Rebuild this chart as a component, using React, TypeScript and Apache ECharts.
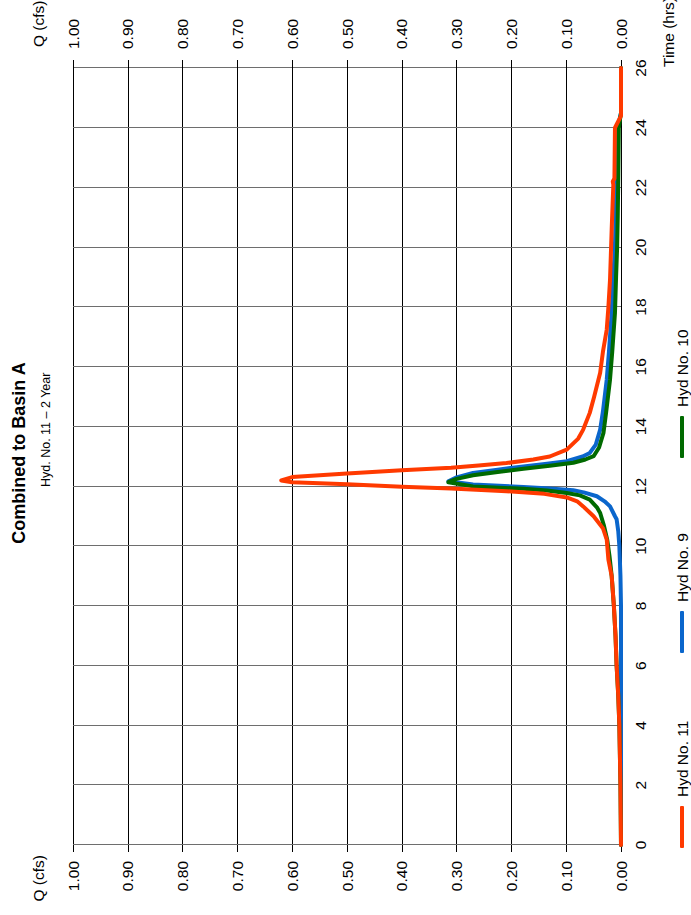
import React, { useEffect, useRef } from "react";
import * as echarts from "echarts";

// Time axis ticks (hrs) and discharge axis ticks (cfs)
const timeTicks = [0, 2, 4, 6, 8, 10, 12, 14, 16, 18, 20, 22, 24, 26];
const qTicks = [0, 0.1, 0.2, 0.3, 0.4, 0.5, 0.6, 0.7, 0.8, 0.9, 1.0];

const seriesNames = ["Hyd No. 11", "Hyd No. 9", "Hyd No. 10"];

// Hyd No. 11 – combined hydrograph
const hyd11Time = [0, 1, 2, 3, 4, 5, 6, 7, 8, 9, 9.55, 10.22, 10.6, 11.0, 11.33, 11.5, 11.63, 11.75, 11.84, 11.93, 11.99, 12.07, 12.14, 12.2, 12.31, 12.43, 12.54, 12.62, 12.7, 12.78, 12.9, 13.0, 13.23, 13.6, 13.9, 14.46, 15.0, 15.8, 16.5, 17.25, 18.0, 18.93, 20.6, 22.1, 22.2, 22.3, 24.0, 24.4, 26];
const hyd11Q = [0, 0.0005, 0.001, 0.002, 0.003, 0.005, 0.008, 0.01, 0.013, 0.017, 0.023, 0.026, 0.033, 0.05, 0.069, 0.08, 0.099, 0.14, 0.209, 0.31, 0.4, 0.5, 0.6, 0.62, 0.6, 0.5, 0.4, 0.31, 0.26, 0.209, 0.16, 0.13, 0.099, 0.078, 0.069, 0.057, 0.049, 0.038, 0.033, 0.026, 0.023, 0.02, 0.017, 0.014, 0.015, 0.012, 0.011, 0, 0];

// Hyd No. 9
const hyd9Time = [0, 8, 9, 9.5, 10, 10.5, 10.9, 11.0, 11.33, 11.5, 11.67, 11.8, 11.87, 11.93, 11.98, 12.06, 12.17, 12.3, 12.45, 12.56, 12.67, 12.76, 12.84, 13.0, 13.12, 13.4, 13.9, 14.5, 15.58, 16.5, 17.81, 19.0, 20.04, 21.0, 22.28, 24.0, 24.5, 26];
const hyd9Q = [0, 0, 0.001, 0.002, 0.003, 0.005, 0.008, 0.011, 0.02, 0.03, 0.044, 0.068, 0.087, 0.13, 0.178, 0.27, 0.315, 0.3, 0.27, 0.225, 0.178, 0.135, 0.099, 0.07, 0.057, 0.046, 0.038, 0.033, 0.026, 0.022, 0.017, 0.014, 0.011, 0.01, 0.008, 0.006, 0, 0];

// Hyd No. 10
const hyd10Time = [0, 1, 2, 3, 4, 5, 6, 7, 8, 9, 9.67, 10.2, 10.68, 11.11, 11.3, 11.56, 11.7, 11.78, 11.86, 11.92, 12.0, 12.14, 12.25, 12.37, 12.48, 12.59, 12.69, 12.79, 12.9, 13.01, 13.3, 13.79, 14.5, 15.58, 16.5, 17.81, 19.0, 20.04, 21.0, 22.28, 24.0, 24.5, 26];
const hyd10Q = [0, 0.0005, 0.001, 0.002, 0.003, 0.005, 0.008, 0.01, 0.013, 0.017, 0.021, 0.025, 0.031, 0.038, 0.044, 0.057, 0.075, 0.099, 0.135, 0.178, 0.27, 0.315, 0.3, 0.27, 0.225, 0.178, 0.13, 0.087, 0.065, 0.05, 0.04, 0.032, 0.027, 0.02, 0.016, 0.011, 0.009, 0.007, 0.006, 0.005, 0.004, 0, 0];

const FONT = "'Liberation Sans', Arial, Helvetica, sans-serif";
const LABEL_SIZE = 15.5;
// The chart is laid out landscape and turned a quarter turn on the page
const W = 915;
const H = 691;

const pairs = (t: number[], q: number[]) => t.map((v, i) => [v, q[i]]);

export default function App() {
  const ref = useRef<HTMLDivElement>(null);

  useEffect(() => {
    if (!ref.current) return;
    const chart = echarts.init(ref.current, undefined, { renderer: "svg" });

    const legendBase = {
      top: 674,
      padding: 0,
      icon: "roundRect",
      itemWidth: 42,
      itemHeight: 4,
      textStyle: { fontSize: LABEL_SIZE, color: "#000", fontFamily: FONT, padding: [0, 0, 0, 4] },
    };

    const qLabel = {
      fontSize: LABEL_SIZE,
      color: "#000",
      fontFamily: FONT,
      formatter: (v: number) => v.toFixed(2),
    };

    const plainText = (text: string, x: number, y: number, align: string, size: number, bold = false) => ({
      type: "text",
      x,
      y,
      style: {
        text,
        fontSize: size,
        fontWeight: bold ? "bold" : "normal",
        fontFamily: FONT,
        fill: "#000",
        textAlign: align,
        textVerticalAlign: "middle",
      },
    });

    const lineSeries = (name: string, t: number[], q: number[], color: string) => ({
      name,
      type: "line",
      data: pairs(t, q),
      symbol: "none",
      showSymbol: false,
      color,
      lineStyle: { width: 4, color, cap: "round", join: "round" },
    });

    chart.setOption({
      animation: false,
      backgroundColor: "#fff",
      textStyle: { fontFamily: FONT },
      grid: { left: 70, right: 68, top: 73, bottom: 70, containLabel: false },
      xAxis: {
        type: "value",
        min: timeTicks[0],
        max: timeTicks[timeTicks.length - 1],
        interval: timeTicks[1] - timeTicks[0],
        axisLine: { show: false },
        axisTick: { show: false },
        axisLabel: { fontSize: LABEL_SIZE, color: "#000", fontFamily: FONT, margin: 11 },
        splitLine: { show: true, lineStyle: { color: "#6e6e6e", width: 1 } },
      },
      yAxis: [
        {
          type: "value",
          position: "left",
          min: qTicks[0],
          max: qTicks[qTicks.length - 1],
          interval: qTicks[1] - qTicks[0],
          axisLine: { show: false },
          axisTick: { show: true, length: 7, lineStyle: { color: "#000" } },
          axisLabel: { ...qLabel, margin: 16 },
          splitLine: { show: true, lineStyle: { color: "#000", width: 1 } },
        },
        {
          type: "value",
          position: "right",
          min: qTicks[0],
          max: qTicks[qTicks.length - 1],
          interval: qTicks[1] - qTicks[0],
          axisLine: { show: false },
          axisTick: { show: true, length: 8, lineStyle: { color: "#000" } },
          axisLabel: { ...qLabel, margin: 19 },
          splitLine: { show: false },
        },
      ],
      legend: [
        { ...legendBase, left: 67, data: [seriesNames[0]] },
        { ...legendBase, left: 262, data: [seriesNames[1]] },
        { ...legendBase, left: 457, data: [seriesNames[2]] },
      ],
      graphic: [
        plainText("Combined to Basin A", 462, 19, "center", 18, true),
        plainText("Hyd. No. 11 \u2013 2 Year", 428, 46, "left", 12.5),
        plainText("Q (cfs)", 60, 38, "right", LABEL_SIZE),
        plainText("Q (cfs)", 868, 38, "left", LABEL_SIZE),
        plainText("Time (hrs)", 848, 668, "left", LABEL_SIZE),
      ],
      series: [
        lineSeries(seriesNames[1], hyd9Time, hyd9Q, "#0a66cc"),
        lineSeries(seriesNames[2], hyd10Time, hyd10Q, "#006a00"),
        lineSeries(seriesNames[0], hyd11Time, hyd11Q, "#ff3a00"),
      ],
    });

    return () => chart.dispose();
  }, []);

  return (
    <div
      style={{
        position: "absolute",
        left: 0,
        top: 0,
        width: 691,
        height: 915,
        overflow: "hidden",
        background: "#fff",
      }}
    >
      <div
        ref={ref}
        style={{
          position: "absolute",
          left: 0,
          top: 915,
          width: W,
          height: H,
          transform: "rotate(-90deg)",
          transformOrigin: "0 0",
        }}
      />
    </div>
  );
}
